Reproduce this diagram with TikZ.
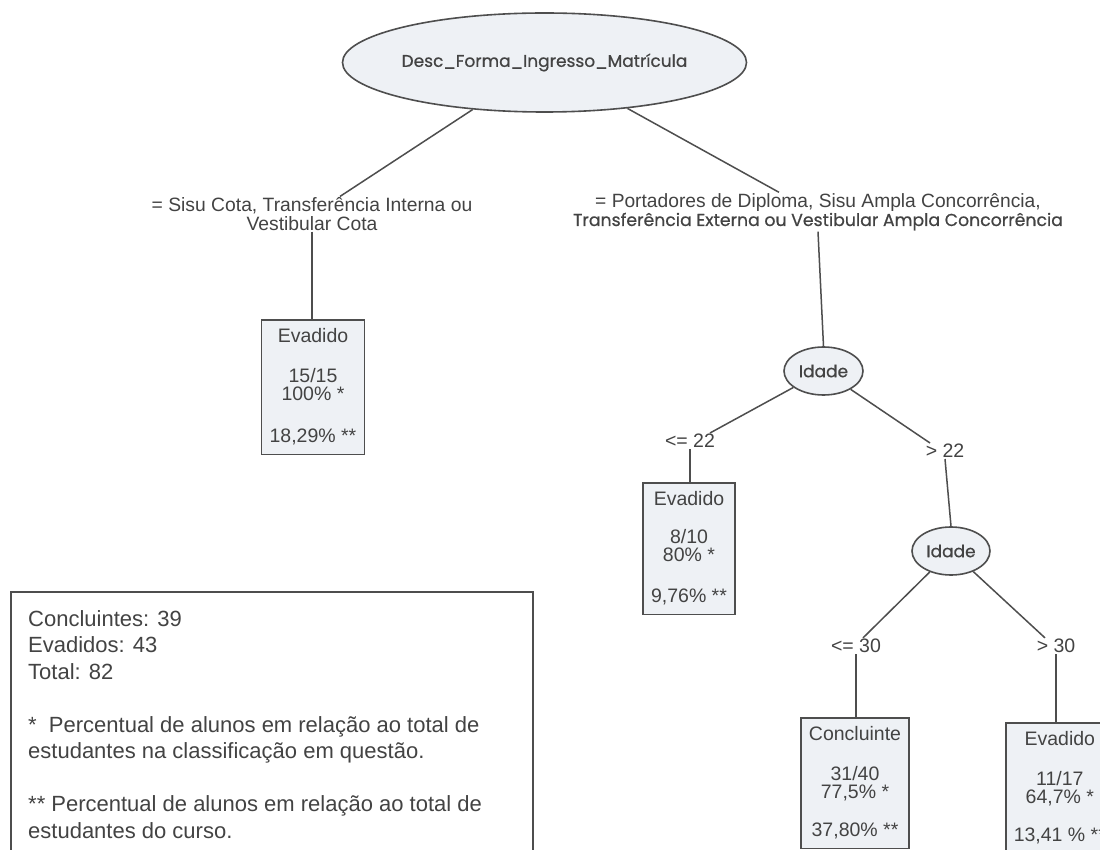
\documentclass[tikz,border=0pt]{standalone}
\usepackage{fontspec}
\setmainfont{Liberation Sans}
\newfontfamily\geo[FakeBold=0.6]{Poppins}
\usetikzlibrary{shapes.geometric,calc}
\definecolor{ink}{HTML}{434343}
\definecolor{edge}{HTML}{4E4E4E}
\definecolor{nodefill}{HTML}{EEF1F5}

\begin{document}
\begin{tikzpicture}[x=1pt,y=-1pt,
  every node/.style={text=ink},
  link/.style={draw=edge, line width=1.5pt},
  test/.style={ellipse, draw=edge, line width=1.6pt, fill=nodefill, inner sep=0pt,
    font=\geo\fontsize{17}{20}\selectfont},
  leaf/.style={rectangle, draw=edge, line width=1.5pt, fill=nodefill, align=center,
    inner xsep=8pt, inner ysep=9pt, anchor=north, font=\fontsize{19.5}{18}\selectfont},
  cond/.style={align=center, inner sep=1pt, font=\fontsize{19.5}{19}\selectfont},
]
\clip (0,0) rectangle (1100,850);
\fill[white] (0,0) rectangle (1100,850);

% root split
\node[test, minimum width=325pt, minimum height=99pt] (root) at (544.5,62.5)
  {Desc\_Forma\_Ingresso\_Matrícula};

% branch conditions of the root
\node[cond, font=\fontsize{19.3}{18.5}\selectfont] (cL) at (312,214)
  {= Sisu Cota, Transferência Interna ou\\Vestibular Cota};
\node[cond, font=\fontsize{19.2}{18.5}\selectfont] (cR) at (818,212)
  {= Portadores de Diploma, Sisu Ampla Concorrência,\\
   {\geo\fontsize{17.3}{18.5}\selectfont Transferência Externa ou Vestibular Ampla Concorrência}};

\draw[link] (root) -- ($(cL.north)+(28,0)$);
\draw[link] (root) -- ($(cR.north)+(-39,0)$);

% left leaf
\node[leaf] (e1) at (313,319) {Evadido\\[22pt]15/15\\100\% *\\[24pt]18,29\% **};
\draw[link] (cL.south) -- (cL.south |- e1.north);

% first age split
\node[test, minimum width=79pt, minimum height=48pt] (i1) at (823.5,371) {Idade};
\draw[link] (cR.south) -- (i1.north);

\node[cond] (c22a) at (690,441) {<= 22};
\node[cond] (c22b) at (945,451) {> 22};
\draw[link] (i1) -- ($(c22a.north)+(20,0)$);
\draw[link] (i1) -- ($(c22b.north)+(-15,0)$);

\node[leaf] (e2) at (689,482) {Evadido\\[20pt]8/10\\80\% *\\[23pt]9,76\% **};
\draw[link] (c22a.south) -- (c22a.south |- e2.north);

% second age split
\node[test, minimum width=78pt, minimum height=48pt] (i2) at (951,551) {Idade};
\draw[link] (c22b.south) -- (i2.north);

\node[cond] (c30a) at (856,646) {<= 30};
\node[cond] (c30b) at (1056,646) {> 30};
\draw[link] (i2) -- ($(c30a.north)+(7,0)$);
\draw[link] (i2) -- ($(c30b.north)+(-11,0)$);

\node[leaf] (k3) at (855,717) {Concluinte\\[22pt]31/40\\77,5\% *\\[20pt]37,80\% **};
\node[leaf, anchor=north west] (e4) at (1005,722) {Evadido\\[22pt]11/17\\64,7\% *\\[20pt]13,41 \% **};
\draw[link] (c30a.south) -- (c30a.south |- k3.north);
\draw[link] (c30b.south) -- (c30b.south |- e4.north);

% legend
\draw[draw=edge, line width=1.5pt] (11,592) rectangle (533,870);
\node[anchor=north west, align=left, inner sep=0pt, font=\fontsize{22}{26.5}\selectfont]
  (legend) at (28,610)
  {Concluintes: 39\\Evadidos: 43\\Total: 82\\[26.5pt]
   *~~Percentual de alunos em relação ao total de\\
   estudantes na classificação em questão.\\[26.5pt]
   ** Percentual de alunos em relação ao total de\\
   estudantes do curso.};
\end{tikzpicture}
\end{document}
